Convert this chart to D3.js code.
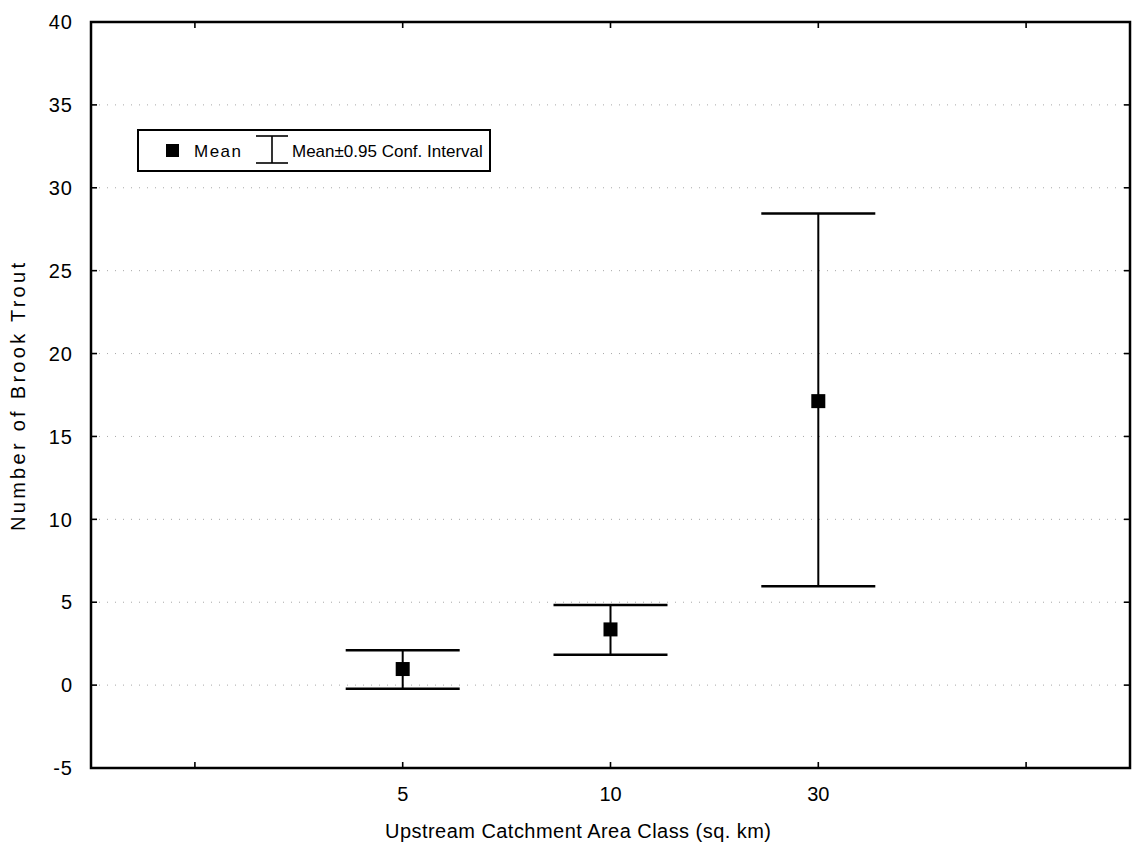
<!DOCTYPE html>
<html>
<head>
<meta charset="utf-8">
<script src="https://cdn.jsdelivr.net/npm/d3@7"></script>
<style>
  html, body { margin: 0; padding: 0; background: #fff; }
  #chart { width: 1132px; height: 862px; }
  text { font-family: "Liberation Sans", Arial, sans-serif; fill: #000; }
</style>
</head>
<body>
<div id="chart"></div>
<script>
// Mean number of brook trout by catchment area class, with 95% CI bars.
var categories = ['5', '10', '30'];
var catPos = [2, 3, 4];
var means = [0.97, 3.36, 17.13];
var ciLow = [-0.22, 1.83, 5.97];
var ciHigh = [2.11, 4.83, 28.45];
var yTicks = [-5, 0, 5, 10, 15, 20, 25, 30, 35, 40];
var xTicks = [1, 2, 3, 4, 5];

(function () {
    var W = 1132, H = 862;
    var margin = { top: 22, right: 2, bottom: 94, left: 91 };
    var innerW = W - margin.left - margin.right;
    var innerH = H - margin.top - margin.bottom;

    var svg = d3.select('#chart').append('svg')
        .attr('width', W).attr('height', H);
    var g = svg.append('g')
        .attr('transform', 'translate(' + margin.left + ',' + margin.top + ')');

    var x = d3.scaleLinear().domain([0.5, 5.5]).range([0, innerW]);
    var y = d3.scaleLinear().domain([-5, 40]).range([innerH, 0]);

    // dotted horizontal grid
    g.selectAll('line.grid')
        .data(yTicks.filter(function (d) { return d > -5 && d < 40; }))
        .enter().append('line')
        .attr('class', 'grid')
        .attr('x1', 0).attr('x2', innerW)
        .attr('y1', function (d) { return y(d); })
        .attr('y2', function (d) { return y(d); })
        .attr('stroke', '#a8a8a8')
        .attr('stroke-width', 1)
        .attr('stroke-dasharray', '1,7');

    // frame
    g.append('rect')
        .attr('x', 0).attr('y', 0)
        .attr('width', innerW).attr('height', innerH)
        .attr('fill', 'none')
        .attr('stroke', '#000')
        .attr('stroke-width', 2.5);

    // inward ticks on all four sides
    var tl = 6;
    function tickSide(vals, fn) {
        g.selectAll(null).data(vals).enter().append('line')
            .attr('stroke', '#000').attr('stroke-width', 1.6)
            .each(fn);
    }
    tickSide(yTicks, function (d) {
        d3.select(this).attr('x1', 0).attr('x2', tl).attr('y1', y(d)).attr('y2', y(d));
    });
    tickSide(yTicks, function (d) {
        d3.select(this).attr('x1', innerW).attr('x2', innerW - tl).attr('y1', y(d)).attr('y2', y(d));
    });
    tickSide(xTicks, function (d) {
        d3.select(this).attr('x1', x(d)).attr('x2', x(d)).attr('y1', innerH).attr('y2', innerH - tl);
    });
    tickSide(xTicks, function (d) {
        d3.select(this).attr('x1', x(d)).attr('x2', x(d)).attr('y1', 0).attr('y2', tl);
    });

    // y tick labels
    g.selectAll('text.ylab').data(yTicks).enter().append('text')
        .attr('class', 'ylab')
        .attr('x', -18).attr('y', function (d) { return y(d); })
        .attr('dy', '0.36em')
        .attr('text-anchor', 'end')
        .style('font-size', '20px')
        .style('letter-spacing', '1px')
        .text(function (d) { return d; });

    // x category labels
    g.selectAll('text.xlab').data(categories).enter().append('text')
        .attr('class', 'xlab')
        .attr('x', function (d, i) { return x(catPos[i]); })
        .attr('y', innerH + 33)
        .attr('text-anchor', 'middle')
        .style('font-size', '20px')
        .text(function (d) { return d; });

    // error bars
    var capHalf = 57;
    var bars = g.selectAll('g.bar').data(categories).enter().append('g')
        .attr('class', 'bar');
    bars.append('line')
        .attr('x1', function (d, i) { return x(catPos[i]); })
        .attr('x2', function (d, i) { return x(catPos[i]); })
        .attr('y1', function (d, i) { return y(ciLow[i]); })
        .attr('y2', function (d, i) { return y(ciHigh[i]); })
        .attr('stroke', '#000').attr('stroke-width', 2);
    [ciLow, ciHigh].forEach(function (arr) {
        bars.append('line')
            .attr('x1', function (d, i) { return x(catPos[i]) - capHalf; })
            .attr('x2', function (d, i) { return x(catPos[i]) + capHalf; })
            .attr('y1', function (d, i) { return y(arr[i]); })
            .attr('y2', function (d, i) { return y(arr[i]); })
            .attr('stroke', '#000').attr('stroke-width', 2.5);
    });
    var sq = 14;
    bars.append('rect')
        .attr('x', function (d, i) { return x(catPos[i]) - sq / 2; })
        .attr('y', function (d, i) { return y(means[i]) - sq / 2; })
        .attr('width', sq).attr('height', sq)
        .attr('fill', '#000');

    // legend
    var lg = svg.append('g').attr('transform', 'translate(138,130)');
    lg.append('rect')
        .attr('width', 352).attr('height', 41)
        .attr('fill', '#fff').attr('stroke', '#000').attr('stroke-width', 2);
    lg.append('rect')
        .attr('x', 28).attr('y', 14).attr('width', 13).attr('height', 13)
        .attr('fill', '#000');
    lg.append('text')
        .attr('x', 56).attr('y', 27)
        .style('font-size', '17px').style('letter-spacing', '1.5px')
        .text('Mean');
    var ix0 = 118, ix1 = 150, icx = 134;
    lg.append('line').attr('x1', ix0).attr('x2', ix1).attr('y1', 6).attr('y2', 6)
        .attr('stroke', '#000').attr('stroke-width', 1.6);
    lg.append('line').attr('x1', ix0).attr('x2', ix1).attr('y1', 33).attr('y2', 33)
        .attr('stroke', '#000').attr('stroke-width', 1.6);
    lg.append('line').attr('x1', icx).attr('x2', icx).attr('y1', 6).attr('y2', 33)
        .attr('stroke', '#000').attr('stroke-width', 1.6);
    lg.append('text')
        .attr('x', 154).attr('y', 27)
        .style('font-size', '17px')
        .text('Mean\u00b10.95 Conf. Interval');

    // axis titles
    svg.append('text')
        .attr('transform', 'translate(25,397) rotate(-90)')
        .attr('text-anchor', 'middle')
        .style('font-size', '20px')
        .attr('textLength', 268)
        .attr('lengthAdjust', 'spacing')
        .text('Number of Brook Trout');
    svg.append('text')
        .attr('x', 578).attr('y', 838)
        .attr('text-anchor', 'middle')
        .style('font-size', '20px')
        .attr('textLength', 386)
        .attr('lengthAdjust', 'spacing')
        .text('Upstream Catchment Area Class (sq. km)');
})();
</script>
</body>
</html>
